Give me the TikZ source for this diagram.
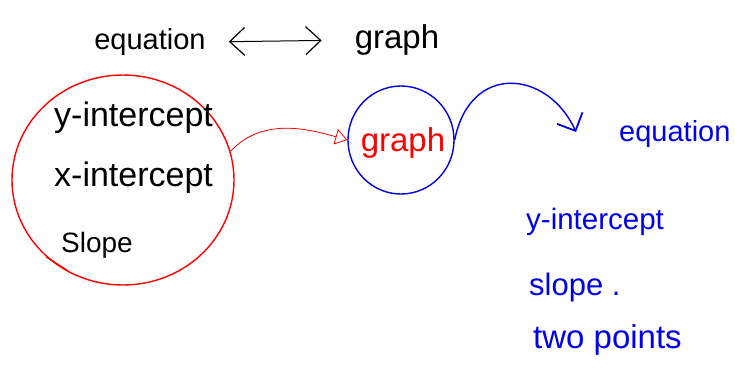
\documentclass[tikz,border=0pt]{standalone}
\usepackage{fontspec}
\setmainfont{Liberation Sans}
\usetikzlibrary{arrows.meta,shapes.geometric}
\definecolor{penred}{RGB}{255,0,0}
\definecolor{penblue}{RGB}{0,0,230}
\begin{document}
\begin{tikzpicture}[x=1pt,y=-1pt,
  fs/.style={font=\fontsize{#1}{#1}\selectfont, inner sep=1pt},
  ring/.style={draw, ellipse, line width=1.4pt, inner sep=0pt},
  mybarb/.tip={Straight Barb[length=15pt,width=28pt,line width=1.2pt]}]
\useasboundingbox (0,0) rectangle (735,368);
% top line
\node[fs=29] (eq) at (150,42) {equation};
\node[fs=33] (gr) at (397,40) {graph};
\draw[line width=1pt, {mybarb}-{mybarb}, shorten <=22pt, shorten >=32pt] (eq.east) -- (gr.west);
% red circle with list
\node[ring, draw=penred, minimum width=222pt, minimum height=210pt] (rc) at (123,180) {};
\node[fs=34, anchor=west] (yi) at (53,118) {y-intercept};
\node[fs=34, anchor=west] (xi) at (53,178) {x-intercept};
\node[fs=28, anchor=west] (sl) at (60,245) {Slope};
\coordinate (tick) at (68,271);
\draw[penred, line width=1.4pt] (rc.225) -- (tick);
% blue circle with red graph
\node[ring, draw=penblue, minimum width=106pt, minimum height=108pt] (bc) at (401,140) {};
\node[fs=33, text=penred] (g2) at (403,143) {graph};
\draw[penred, line width=0.8pt, -{Triangle[open,length=12pt,width=16pt]}] (rc.15) .. controls (262,118) and (305,128) .. (bc.west);
% blue arrow to equation
\coordinate (btip) at (576,132);
\draw[penblue, line width=1.4pt, -{Straight Barb[length=14pt,width=28pt,line width=1.8pt]}] (bc.east) .. controls (470,62) and (548,70) .. (btip);
\node[fs=29, text=penblue, anchor=west] (eq2) at (618,134) {equation};
\node[fs=29.5, text=penblue, anchor=west] (b1) at (525,222) {y-intercept};
\node[fs=31, text=penblue, anchor=west] (b2) at (528,287) {slope .};
\node[fs=33, text=penblue, anchor=west] (b3) at (532,340) {two points};
\end{tikzpicture}
\end{document}
